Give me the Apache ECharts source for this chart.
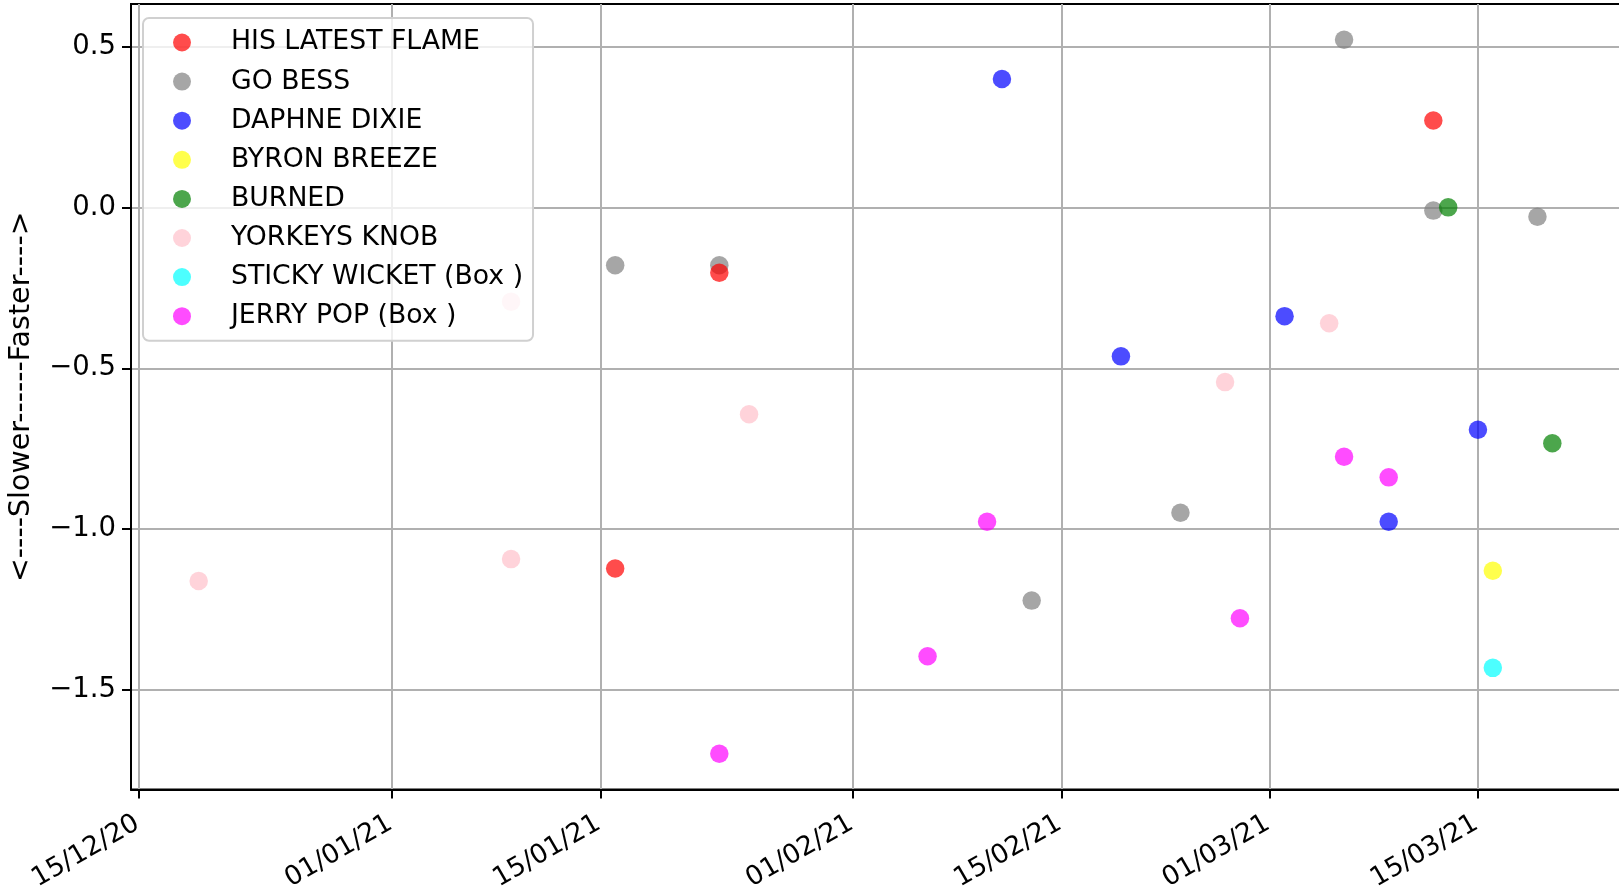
<!DOCTYPE html>
<html>
<head>
<meta charset="utf-8">
<script src="https://cdn.jsdelivr.net/npm/echarts@6/dist/echarts.min.js"></script>
<style>
  html, body { margin: 0; padding: 0; background: #fff; }
  #chart { width: 1619px; height: 889px; }
</style>
</head>
<body>
<div id="chart"></div>
<script>
// horses, colours and race results (date, speed diff)
var horses = ['HIS LATEST FLAME', 'GO BESS', 'DAPHNE DIXIE', 'BYRON BREEZE',
    'BURNED', 'YORKEYS KNOB', 'STICKY WICKET (Box )', 'JERRY POP (Box )'];
var colors = ['rgba(255,0,0,0.7)', 'rgba(128,128,128,0.7)', 'rgba(0,0,255,0.7)',
    'rgba(255,255,0,0.7)', 'rgba(0,128,0,0.7)', 'rgba(255,192,203,0.7)',
    'rgba(0,255,255,0.7)', 'rgba(255,0,255,0.7)'];

var hisLatestFlame = [['2021-01-16', -1.122], ['2021-01-23', -0.203], ['2021-03-12', 0.270]];
var goBess = [['2021-01-16', -0.180], ['2021-01-23', -0.180], ['2021-02-13', -1.222],
    ['2021-02-23', -0.949], ['2021-03-06', 0.521], ['2021-03-12', -0.010], ['2021-03-19', -0.029]];
var daphneDixie = [['2021-02-11', 0.399], ['2021-02-19', -0.463], ['2021-03-02', -0.338],
    ['2021-03-09', -0.977], ['2021-03-15', -0.691]];
var byronBreeze = [['2021-03-16', -1.129]];
var burned = [['2021-03-13', 0.000], ['2021-03-20', -0.733]];
var yorkeysKnob = [['2020-12-19', -1.161], ['2021-01-09', -0.293], ['2021-01-09', -1.093],
    ['2021-01-25', -0.643], ['2021-02-26', -0.543], ['2021-03-05', -0.360]];
var stickyWicket = [['2021-03-16', -1.431]];
var jerryPop = [['2021-01-23', -1.698], ['2021-02-06', -1.395], ['2021-02-10', -0.977],
    ['2021-02-27', -1.277], ['2021-03-06', -0.775], ['2021-03-09', -0.839]];

var seriesData = [hisLatestFlame, goBess, daphneDixie, byronBreeze, burned,
    yorkeysKnob, stickyWicket, jerryPop];

var xTicks = ['2020-12-15', '2021-01-01', '2021-01-15', '2021-02-01',
    '2021-02-15', '2021-03-01', '2021-03-15'];
var yTicks = [-1.5, -1.0, -0.5, 0.0, 0.5];

// dates as day numbers (UTC) so a plain value axis can be used
var DAY = 86400000;
function toDay(s) {
    var p = s.split('-');
    return Date.UTC(+p[0], +p[1] - 1, +p[2]) / DAY;
}
var xMin = toDay('2020-12-15') - 0.55;
var xMax = toDay('2020-12-15') + 99.55;

function fmtDate(v) {
    var d = new Date(Math.round(v) * DAY);
    var dd = ('0' + d.getUTCDate()).slice(-2);
    var mm = ('0' + (d.getUTCMonth() + 1)).slice(-2);
    var yy = ('' + d.getUTCFullYear()).slice(-2);
    return dd + '/' + mm + '/' + yy;
}

var font = 'DejaVu Sans';
var myChart = echarts.init(document.getElementById('chart'));

var series = horses.map(function (name, i) {
    return {
        name: name,
        type: 'scatter',
        symbolSize: 18.5,
        z: i === 0 ? 3 : 2,
        itemStyle: { color: colors[i], opacity: 1 },
        data: seriesData[i].map(function (p) { return [toDay(p[0]), p[1]]; })
    };
});

myChart.setOption({
    animation: false,
    backgroundColor: '#fff',
    grid: {
        left: 131, right: -1, top: 4, bottom: 99.5,
        outerBoundsMode: 'none',
        containLabel: false,
        show: true, borderColor: '#000', borderWidth: 2, backgroundColor: 'transparent'
    },
    legend: {
        orient: 'vertical',
        left: 143, top: 18,
        padding: [11, 10, 11, 30],
        itemWidth: 18, itemHeight: 18,
        itemGap: 12.1,
        icon: 'circle',
        itemStyle: { opacity: 1 },
        backgroundColor: 'rgba(255,255,255,0.8)',
        borderColor: '#d0d0d0', borderWidth: 2, borderRadius: 6,
        textStyle: { fontFamily: font, fontSize: 26.7, color: '#000', lineHeight: 26, padding: [0, 0, 0, 35] },
        data: horses
    },
    xAxis: {
        type: 'value',
        min: xMin, max: xMax,
        axisLine: { show: true, onZero: false, lineStyle: { color: '#000', width: 2 } },
        axisTick: { show: true, length: 9, lineStyle: { color: '#000', width: 2 },
            customValues: xTicks.map(toDay) },
        axisLabel: {
            rotate: 30, margin: 31, padding: [0, 2, 0, 0],
            fontFamily: font, fontSize: 26.5, color: '#000',
            customValues: xTicks.map(toDay),
            formatter: fmtDate
        },
        splitLine: { show: true, lineStyle: { color: '#b0b0b0', width: 2 } }
    },
    yAxis: {
        type: 'value',
        min: -1.809, max: 0.632,
        name: '<----Slower------Faster---->',
        nameLocation: 'middle',
        nameGap: 95,
        nameTextStyle: { fontFamily: font, fontSize: 28.5, color: '#000' },
        axisLine: { show: true, onZero: false, lineStyle: { color: '#000', width: 2 } },
        axisTick: { show: true, length: 9, lineStyle: { color: '#000', width: 2 },
            customValues: yTicks },
        axisLabel: {
            margin: 15, fontFamily: font, fontSize: 27.5, color: '#000',
            customValues: yTicks,
            formatter: function (v) {
                return (v < 0 ? '\u2212' : '') + Math.abs(v).toFixed(1);
            }
        },
        splitLine: { show: true, lineStyle: { color: '#b0b0b0', width: 2 } }
    },
    series: series
});
</script>
</body>
</html>
